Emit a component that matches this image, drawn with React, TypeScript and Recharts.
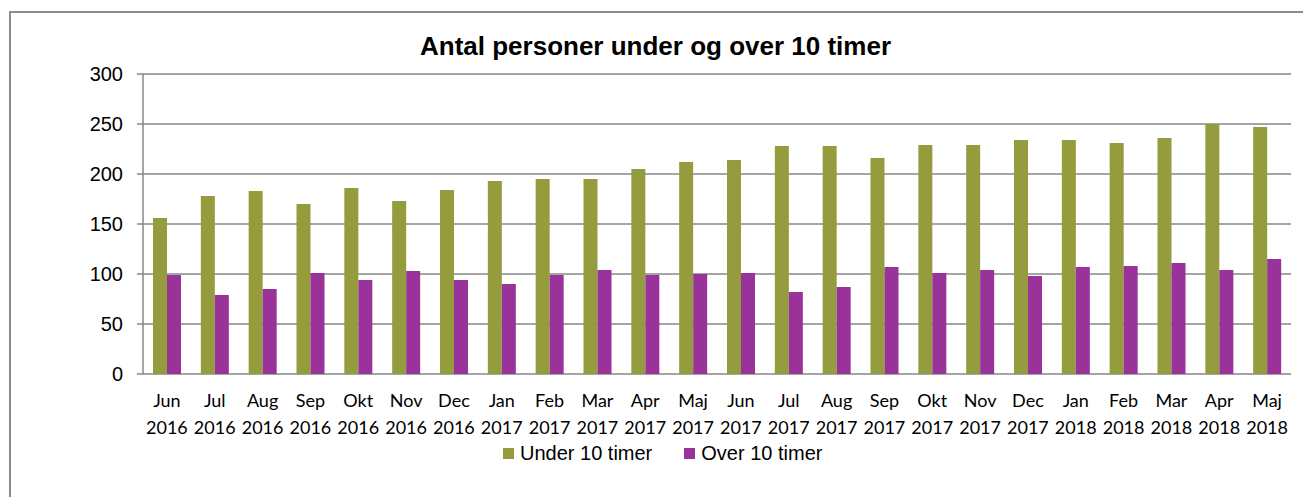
import { BarChart, Bar, XAxis, YAxis, CartesianGrid, Legend } from "recharts";

const months = ["Jun", "Jul", "Aug", "Sep", "Okt", "Nov", "Dec", "Jan", "Feb", "Mar", "Apr", "Maj",
  "Jun", "Jul", "Aug", "Sep", "Okt", "Nov", "Dec", "Jan", "Feb", "Mar", "Apr", "Maj"];
const years = ["2016", "2016", "2016", "2016", "2016", "2016", "2016", "2017", "2017", "2017", "2017", "2017",
  "2017", "2017", "2017", "2017", "2017", "2017", "2017", "2018", "2018", "2018", "2018", "2018"];
const under10 = [156, 178, 183, 170, 186, 173, 184, 193, 195, 195, 205, 212,
  214, 228, 228, 216, 229, 229, 234, 234, 231, 236, 250, 247];
const over10 = [99, 79, 85, 101, 94, 103, 94, 90, 99, 104, 99, 100,
  101, 82, 87, 107, 101, 104, 98, 107, 108, 111, 104, 115];
const yTicks = [0, 50, 100, 150, 200, 250, 300];
const edgeTicks = months.map((_, i) => i).concat(months.length);

const data = months.map((m, i) => ({ key: `${m} ${years[i]}`, m, y: years[i], under: under10[i], over: over10[i] }));

const GREEN = "#949c3e";
const PURPLE = "#993399";
const GRID = "#878787";
const ARIAL = "'Liberation Sans', Arial, sans-serif";

function MonthTick(props: any) {
  const { x, y, payload } = props;
  const [m, yr] = String(payload.value).split(" ");
  return (
    <text x={x} y={y} textAnchor="middle" fill="#000" fontFamily="Lato, sans-serif" fontSize={18}>
      <tspan x={x} dy={25}>{m}</tspan>
      <tspan x={x} dy={27}>{yr}</tspan>
    </text>
  );
}

function LegendBox(props: any) {
  const items = [
    { name: "Under 10 timer", color: GREEN },
    { name: "Over 10 timer", color: PURPLE },
  ];
  return (
    <div style={{ display: "flex", gap: 32, fontFamily: ARIAL, fontSize: 20, lineHeight: "23px", color: "#000" }}>
      {items.map((it) => (
        <div key={it.name} style={{ display: "flex", alignItems: "center", gap: 6 }}>
          <span style={{ display: "inline-block", width: 11, height: 11, background: it.color }} />
          <span>{it.name}</span>
        </div>
      ))}
    </div>
  );
}

export default function App() {
  return (
    <div style={{ position: "fixed", left: 0, top: 0, width: 1303, height: 497, background: "#fff", overflow: "hidden" }}>
      <div style={{ position: "absolute", left: 9, top: 11, width: 1400, height: 600, border: "2px solid #8c8c8c", boxSizing: "border-box" }} />
      <div style={{ position: "absolute", left: 0, top: 33, width: 1311, textAlign: "center", fontFamily: ARIAL, fontWeight: "bold", fontSize: 26, lineHeight: "26px", color: "#000" }}>
        Antal personer under og over 10 timer
      </div>
      <BarChart
        width={1303}
        height={497}
        data={data}
        margin={{ top: 74, right: 12, left: 83, bottom: 40 }}
        barSize={14}
        barGap={0}
        style={{ position: "absolute", left: 0, top: 0 }}
      >
        <CartesianGrid vertical={false} stroke={GRID} strokeWidth={1.5} />
        <XAxis
          xAxisId="edge"
          type="number"
          domain={[0, 24]}
          ticks={edgeTicks}
          tick={false}
          tickSize={6}
          height={0}
          stroke={GRID}
          strokeWidth={1.5}
        />
        <XAxis
          dataKey="key"
          interval={0}
          axisLine={false}
          tickLine={false}
          tick={<MonthTick />}
          height={60}
        />
        <YAxis
          domain={[0, 300]}
          ticks={yTicks}
          width={60}
          tickSize={6}
          tickMargin={14}
          stroke={GRID}
          strokeWidth={1.5}
          tick={{ fill: "#000", fontFamily: ARIAL, fontSize: 20 }}
        />
        <Legend content={<LegendBox />} wrapperStyle={{ position: "absolute", left: 503, top: 442, width: "auto" }} />
        <Bar dataKey="under" name="Under 10 timer" fill={GREEN} isAnimationActive={false} />
        <Bar dataKey="over" name="Over 10 timer" fill={PURPLE} isAnimationActive={false} />
      </BarChart>
    </div>
  );
}
